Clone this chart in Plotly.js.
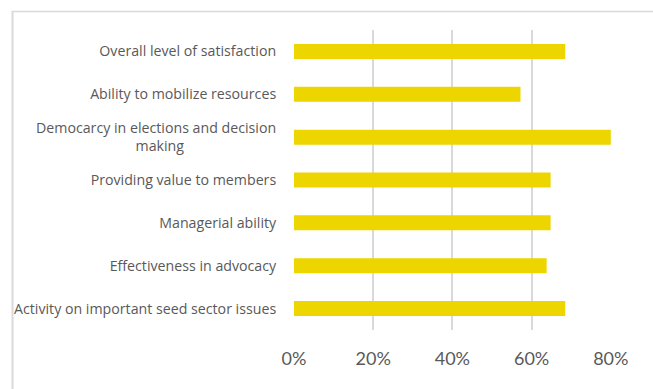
<!DOCTYPE html>
<html>
<head>
<meta charset="utf-8">
<script src="https://cdn.plot.ly/plotly-3.0.1.min.js"></script>
<style>
html,body{margin:0;padding:0;background:#fff;}
#chart{width:653px;height:389px;}
</style>
</head>
<body>
<div id="chart"></div>
<script>
const categories = [
  "Overall level of satisfaction",
  "Ability to mobilize resources",
  "Democarcy in elections and decision<br>making",
  "Providing value to members",
  "Managerial ability",
  "Effectiveness in advocacy",
  "Activity on important seed sector issues"
];
const values = [0.685, 0.572, 0.80, 0.648, 0.648, 0.638, 0.685];
const tickVals = [0, 0.2, 0.4, 0.6, 0.8];
const tickText = ["0%", "20%", "40%", "60%", "80%"];

// center the second line of the wrapped label
const labels = categories.map(c => {
  if (c.indexOf("<br>") < 0) return c;
  const parts = c.split("<br>");
  return parts[0] + "<br>" + parts[1] + "\u00A0".repeat(25);
});

const W = 653, H = 389;
const mL = 294, mR = 42, mT = 30, mB = 59;
const pw = W - mL - mR, ph = H - mT - mB;
const px = x => (x - mL) / pw;
const py = y => (H - mB - y) / ph;

const trace = {
  type: "bar",
  orientation: "h",
  x: values,
  y: labels,
  marker: {color: "#EDD500"},
  hoverinfo: "none"
};

const layout = {
  width: W, height: H,
  margin: {l: mL, r: mR, t: mT, b: mB, pad: 0},
  paper_bgcolor: "#fff",
  plot_bgcolor: "#fff",
  showlegend: false,
  bargap: 0.65,
  font: {family: "'Open Sans', Lato, sans-serif", color: "#595959"},
  xaxis: {
    range: [0, 0.8005],
    tickvals: tickVals,
    ticktext: tickText,
    showgrid: true,
    gridcolor: "#d9d9d9",
    gridwidth: 2,
    zeroline: false,
    showline: false,
    ticks: "outside",
    ticklen: 12,
    tickcolor: "rgba(0,0,0,0)",
    tickfont: {size: 18, color: "#595959", family: "Lato, sans-serif"},
    fixedrange: true
  },
  yaxis: {
    type: "category",
    categoryorder: "array",
    categoryarray: labels.slice().reverse(),
    autorange: true,
    showgrid: false,
    zeroline: false,
    showline: false,
    ticks: "outside",
    ticklen: 14,
    tickcolor: "rgba(0,0,0,0)",
    tickfont: {size: 14.2, color: "#595959"},
    fixedrange: true
  },
  shapes: [
    {type: "line", xref: "paper", yref: "paper", x0: px(12), x1: px(660), y0: py(11.5), y1: py(11.5), line: {color: "#d9d9d9", width: 1.5}},
    {type: "line", xref: "paper", yref: "paper", x0: px(12.5), x1: px(12.5), y0: py(11), y1: py(395), line: {color: "#d9d9d9", width: 2}}
  ]
};

Plotly.newPlot("chart", [trace], layout, {displayModeBar: false, staticPlot: true});
</script>
</body>
</html>
